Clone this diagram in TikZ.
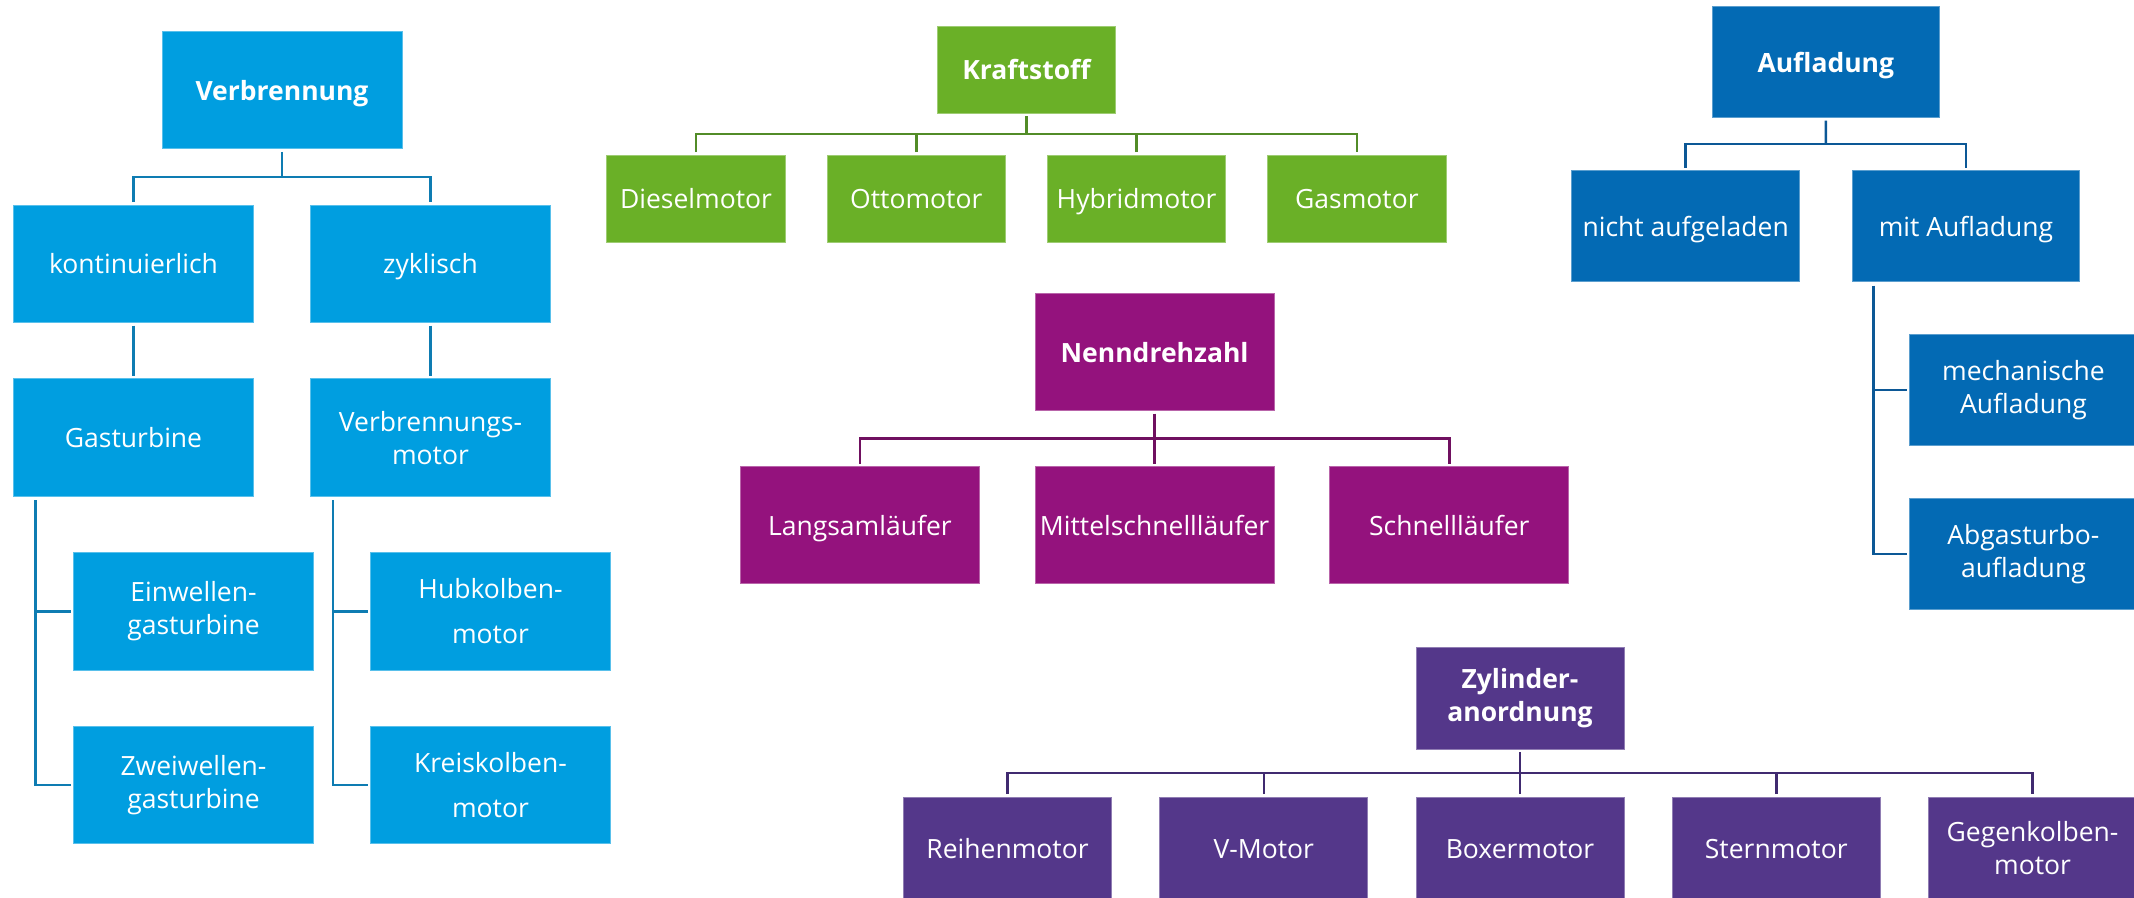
\documentclass[tikz,border=0pt]{standalone}
\usepackage{fontspec}
\setmainfont{Open Sans}
\usetikzlibrary{calc,positioning}
\definecolor{verbblue}{RGB}{0,158,224}
\definecolor{verbline}{RGB}{14,124,178}
\definecolor{kraftgreen}{RGB}{106,176,39}
\definecolor{kraftline}{RGB}{82,140,40}
\definecolor{nennpurple}{RGB}{148,18,125}
\definecolor{nennline}{RGB}{112,16,96}
\definecolor{zylviolet}{RGB}{84,55,138}
\definecolor{zylline}{RGB}{64,42,112}
\definecolor{auflblue}{RGB}{3,106,180}
\definecolor{auflline}{RGB}{12,88,150}

\begin{document}
\begin{tikzpicture}[x=1pt,y=1pt]

\tikzset{box/.style={shape=rectangle,text=white,align=center,inner sep=2pt,outer sep=0pt,line width=1pt,font=\fontsize{26.5}{33}\selectfont},
oneline/.style={text height=26pt,text depth=6pt},
headbox/.style={font=\fontsize{26.5}{33}\selectfont\bfseries},
conn/.style={line width=2.5pt},
vbox/.style={box,node distance=56.3pt and 57pt,fill=verbblue,draw=verbblue!65!white,minimum width=240pt,minimum height=117.5pt},
kbox/.style={box,oneline,node distance=42pt and 41.8pt,fill=kraftgreen,draw=kraftgreen!65!white,minimum width=178.5pt,minimum height=87pt},
nbox/.style={box,oneline,node distance=56pt and 55.7pt,fill=nennpurple,draw=nennpurple!65!white,minimum width=239pt,minimum height=117pt},
zbox/.style={box,node distance=48pt and 48.25pt,fill=zylviolet,draw=zylviolet!65!white,minimum width=208pt,minimum height=102pt},
abox/.style={box,node distance=53pt and 52.6pt,fill=auflblue,draw=auflblue!65!white,minimum width=227.6pt,minimum height=111pt}}

\useasboundingbox (0,0) rectangle (2134,-897);

% Verbrennung
\node[vbox,oneline,headbox] (verb) at (282,-90) {Verbrennung};
\node[vbox,oneline,below=of verb,xshift=-148.5pt] (kont) {kontinuierlich};
\node[vbox,oneline,right=of kont] (zyk) {zyklisch};
\node[vbox,oneline,below=of kont] (gast) {Gasturbine};
\node[vbox,below=of zyk] (vmot) {Verbrennungs-\\motor};
\node[vbox,below=of gast,xshift=60pt] (einw) {Einwellen-\\gasturbine};
\node[vbox,below=of einw] (zweiw) {Zweiwellen-\\gasturbine};
\node[vbox,below=of vmot,xshift=60pt] (hub) {Hubkolben-\\[12pt]motor};
\node[vbox,below=of hub] (kreis) {Kreiskolben-\\[12pt]motor};

\coordinate (vbus) at ($(verb.south)!0.5!(verb.south |- kont.north)$);
\draw[conn,verbline] ([yshift=-3pt]verb.south) -- (vbus);
\draw[conn,verbline] ([yshift=3pt]kont.north) |- (vbus) -| ([yshift=3pt]zyk.north);
\draw[conn,verbline] ([yshift=-3pt]kont.south) -- ([yshift=3pt]gast.north);
\draw[conn,verbline] ([yshift=-3pt]zyk.south) -- ([yshift=3pt]vmot.north);
\coordinate (gstem) at ([xshift=22pt,yshift=-4pt]gast.south west);
\coordinate (mstem) at ([xshift=22.6pt,yshift=-4pt]vmot.south west);
\draw[conn,verbline] (gstem) |- ([xshift=-3pt]zweiw.west);
\draw[conn,verbline] (gstem |- einw.west) -- ([xshift=-3pt]einw.west);
\draw[conn,verbline] (mstem) |- ([xshift=-3pt]kreis.west);
\draw[conn,verbline] (mstem |- hub.west) -- ([xshift=-3pt]hub.west);

% Kraftstoff
\node[kbox,headbox] (kraft) at (1026.5,-69.7) {Kraftstoff};
\node[kbox,below=of kraft,xshift=-330.5pt] (diesel) {Dieselmotor};
\node[kbox,right=of diesel] (otto) {Ottomotor};
\node[kbox,right=of otto] (hybrid) {Hybridmotor};
\node[kbox,right=of hybrid] (gas) {Gasmotor};

\coordinate (kbus) at ($(kraft.south)!0.5!(kraft.south |- diesel.north)$);
\draw[conn,kraftline] ([yshift=-3pt]kraft.south) -- (kbus);
\draw[conn,kraftline] ([yshift=3pt]diesel.north) |- (kbus) -| ([yshift=3pt]gas.north);
\foreach \c in {otto,hybrid} \draw[conn,kraftline] ([yshift=3pt]\c.north) -- (\c.north |- kbus);

% Nenndrehzahl
\node[nbox,headbox] (nenn) at (1154.6,-352) {Nenndrehzahl};
\node[nbox,below=of nenn,xshift=-294.7pt] (langsam) {Langsamläufer};
\node[nbox,right=of langsam] (mittel) {Mittelschnellläufer};
\node[nbox,right=of mittel] (schnell) {Schnellläufer};

\coordinate (nbus) at ($(nenn.south)!0.5!(nenn.south |- mittel.north)$);
\draw[conn,nennline] ([yshift=-3pt]nenn.south) -- ([yshift=3pt]mittel.north);
\draw[conn,nennline] ([yshift=3pt]langsam.north) |- (nbus) -| ([yshift=3pt]schnell.north);

% Zylinderanordnung
\node[zbox,headbox] (zyl) at (1520,-698) {Zylinder-\\anordnung};
\node[zbox,oneline,below=of zyl,xshift=-512.5pt] (reihe) {Reihenmotor};
\node[zbox,oneline,right=of reihe] (vmo) {V-Motor};
\node[zbox,oneline,right=of vmo] (boxer) {Boxermotor};
\node[zbox,oneline,right=of boxer] (stern) {Sternmotor};
\node[zbox,right=of stern] (gegen) {Gegenkolben-\\motor};

\coordinate (zbus) at ($(zyl.south)!0.5!(zyl.south |- boxer.north)$);
\draw[conn,zylline] ([yshift=-3pt]zyl.south) -- ([yshift=3pt]boxer.north);
\draw[conn,zylline] ([yshift=3pt]reihe.north) |- (zbus) -| ([yshift=3pt]gegen.north);
\foreach \c in {vmo,stern} \draw[conn,zylline] ([yshift=3pt]\c.north) -- (\c.north |- zbus);

% Aufladung
\node[abox,oneline,headbox] (aufl) at (1825.8,-62) {Aufladung};
\node[abox,oneline,below=of aufl,xshift=-140.1pt] (nicht) {nicht aufgeladen};
\node[abox,oneline,right=of nicht] (mit) {mit Aufladung};
\node[abox,below=of mit,xshift=57.5pt] (mech) {mechanische\\Aufladung};
\node[abox,below=of mech] (abgas) {Abgasturbo-\\aufladung};

\coordinate (abus) at ($(aufl.south)!0.5!(aufl.south |- nicht.north)$);
\draw[conn,auflline] ([yshift=-3pt]aufl.south) -- (abus);
\draw[conn,auflline] ([yshift=3pt]nicht.north) |- (abus) -| ([yshift=3pt]mit.north);
\coordinate (astem) at ([xshift=21.3pt,yshift=-4pt]mit.south west);
\draw[conn,auflline] (astem) |- ([xshift=-3pt]abgas.west);
\draw[conn,auflline] (astem |- mech.west) -- ([xshift=-3pt]mech.west);

\end{tikzpicture}
\end{document}
